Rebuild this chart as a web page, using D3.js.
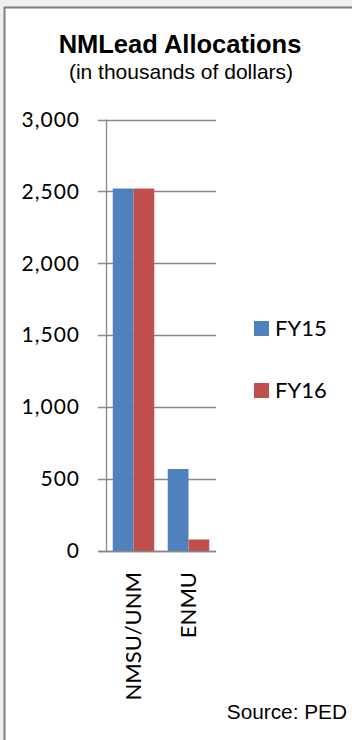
<!DOCTYPE html>
<html>
<head>
<meta charset="utf-8">
<script src="https://cdn.jsdelivr.net/npm/d3@7"></script>
<style>
  html, body { margin: 0; padding: 0; background: #efefef; }
  svg { display: block; }
</style>
</head>
<body>
<script>
// Data
const categories = ["NMSU/UNM", "ENMU"];
const seriesNames = ["FY15", "FY16"];
const fy15 = [2520, 570];
const fy16 = [2520, 80];
const yTicks = [0, 500, 1000, 1500, 2000, 2500, 3000];
const title = "NMLead Allocations";
const subtitle = "(in thousands of dollars)";
const source = "Source: PED";

const colors = ["#4F81BD", "#C0504D"];
const series = [fy15, fy16];

const W = 352, H = 740;
const svg = d3.select("body").append("svg").attr("width", W).attr("height", H);

// background panel
svg.append("rect").attr("x", 0).attr("y", 0).attr("width", W).attr("height", H).attr("fill", "#efefef");
svg.append("rect").attr("x", 4).attr("y", 7).attr("width", W - 4).attr("height", H - 7).attr("fill", "#ffffff");
svg.append("line").attr("x1", 4).attr("x2", W).attr("y1", 7.5).attr("y2", 7.5).attr("stroke", "#7f7f7f").attr("stroke-width", 2);
svg.append("line").attr("x1", 4.5).attr("x2", 4.5).attr("y1", 7).attr("y2", H).attr("stroke", "#7f7f7f").attr("stroke-width", 2);

// Titles
svg.append("text").attr("x", 180).attr("y", 53).attr("text-anchor", "middle")
  .attr("font-family", "Liberation Sans, Arial, sans-serif").attr("font-weight", "bold")
  .attr("font-size", 25.5).attr("fill", "#000").text(title);
svg.append("text").attr("x", 181).attr("y", 79).attr("text-anchor", "middle")
  .attr("font-family", "Liberation Sans, Arial, sans-serif")
  .attr("font-size", 21).attr("fill", "#000").text(subtitle);

// Scales
const plotL = 106, plotR = 216, plotT = 119.5, plotB = 551;
const y = d3.scaleLinear().domain([0, 3000]).range([plotB, plotT]);
const x0 = d3.scaleBand().domain(categories).range([plotL, plotR]).paddingInner(0.245).paddingOuter(0.1225);
const x1 = d3.scaleBand().domain(seriesNames).range([0, x0.bandwidth()]);

const gridColor = "#888888";

// gridlines
svg.append("g").selectAll("line").data(yTicks).join("line")
  .attr("x1", plotL - 8).attr("x2", plotR)
  .attr("y1", d => Math.round(y(d)) + 0.5).attr("y2", d => Math.round(y(d)) + 0.5)
  .attr("stroke", gridColor).attr("stroke-width", 1.3);

// y axis
const yAxis = d3.axisLeft(y).tickValues(yTicks).tickSize(0).tickPadding(26)
  .tickFormat(d3.format(","));
const gy = svg.append("g").attr("transform", `translate(${plotL},0)`).call(yAxis);
gy.select(".domain").remove();
gy.selectAll("text").attr("font-family", "Lato, sans-serif").attr("font-size", 21)
  .attr("letter-spacing", 1).attr("fill", "#000");

// bars
const groups = svg.append("g").selectAll("g").data(categories).join("g")
  .attr("transform", d => `translate(${x0(d)},0)`);
groups.selectAll("rect").data((d, i) => seriesNames.map((s, j) => ({ s, v: series[j][i], j })))
  .join("rect")
  .attr("x", d => x1(d.s)).attr("width", x1.bandwidth())
  .attr("y", d => y(d.v)).attr("height", d => y(0) - y(d.v))
  .attr("fill", d => colors[d.j]);

// axis lines
svg.append("line").attr("x1", plotL + 0.5).attr("x2", plotL + 0.5).attr("y1", plotT).attr("y2", plotB)
  .attr("stroke", gridColor).attr("stroke-width", 1.3);
svg.append("line").attr("x1", plotL - 8).attr("x2", plotR).attr("y1", Math.round(plotB) + 0.5).attr("y2", Math.round(plotB) + 0.5)
  .attr("stroke", gridColor).attr("stroke-width", 1.5);

// x axis labels (rotated)
const xAxis = d3.axisBottom(x0).tickSize(0).tickPadding(0);
const gx = svg.append("g").attr("transform", `translate(0,${plotB})`).call(xAxis);
gx.select(".domain").remove();
gx.selectAll("text")
  .attr("font-family", "Lato, sans-serif").attr("font-size", 22).attr("fill", "#000")
  .attr("text-anchor", "end").attr("dy", "0.35em")
  .attr("transform", "translate(0,21) rotate(-90)")
  .attr("x", 0).attr("y", 0);

// legend
const legend = svg.append("g").selectAll("g").data(seriesNames).join("g")
  .attr("transform", (d, i) => `translate(254,${321 + i * 62})`);
legend.append("rect").attr("width", 15).attr("height", 15).attr("fill", (d, i) => colors[i]);
legend.append("text").attr("x", 21).attr("y", 15).attr("font-family", "Lato, sans-serif")
  .attr("font-size", 22).attr("fill", "#000").text(d => d);

// source
svg.append("text").attr("x", 347).attr("y", 719).attr("text-anchor", "end")
  .attr("font-family", "Liberation Sans, Arial, sans-serif").attr("font-size", 20.8)
  .attr("fill", "#000").text(source);
</script>
</body>
</html>
